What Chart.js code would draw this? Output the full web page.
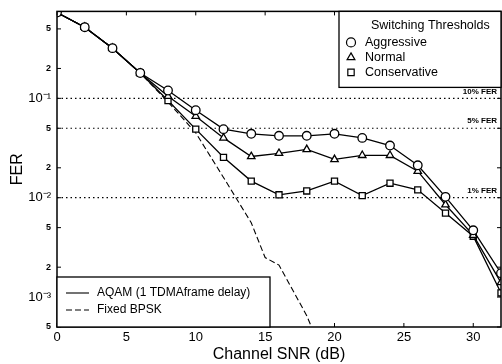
<!DOCTYPE html>
<html>
<head>
<meta charset="utf-8">
<script src="https://cdn.jsdelivr.net/npm/chart.js@4"></script>
<style>
  html, body { margin: 0; background: #fff; overflow: hidden; }
  canvas { display: block; }
</style>
</head>
<body>
<canvas id="ferChart" width="502" height="364"></canvas>
<script>
// valores (FER contra SNR del canal)
const snr = [0, 2, 4, 6, 8, 10, 12, 14, 16, 18, 20, 22, 24, 26, 28, 30, 32];
const aggressive   = [0.73, 0.52, 0.32, 0.18, 0.12, 0.076, 0.049, 0.044, 0.042, 0.042, 0.044, 0.040, 0.0335, 0.0212, 0.0102, 0.0047, 0.00174];
const normal       = [0.73, 0.52, 0.32, 0.18, 0.105, 0.066, 0.040, 0.026, 0.028, 0.0306, 0.0243, 0.0267, 0.0267, 0.0185, 0.0085, 0.0042, 0.0014];
const conservative = [0.73, 0.52, 0.32, 0.18, 0.095, 0.049, 0.0255, 0.0147, 0.0107, 0.0117, 0.0147, 0.0105, 0.014, 0.012, 0.0070, 0.0041, 0.0011];

const bpskSnr = [0, 2, 4, 6, 8, 10, 12, 14, 15, 16, 18, 19];
const bpskFer = [0.73, 0.52, 0.32, 0.18, 0.092, 0.045, 0.016, 0.0056, 0.0025, 0.0021, 0.00065, 0.0003];

const refLevels = [0.1, 0.05, 0.01];
const refLabels = ['10% FER', '5% FER', '1% FER'];

const xTicks = [0, 5, 10, 15, 20, 25, 30];
const yTicks = [0.5, 0.2, 0.1, 0.05, 0.02, 0.01, 0.005, 0.002, 0.001, 0.0005];
const yTickLabels = ['5', '2', '10⁻¹', '5', '2', '10⁻²', '5', '2', '10⁻³', '5'];

const FONT = '"Liberation Sans", Arial, sans-serif';

function pts(xs, ys) {
  return xs.map((x, i) => ({ x: x, y: ys[i] }));
}

function serie(label, data, style) {
  return {
    label: label,
    data: pts(snr, data),
    borderColor: '#000',
    borderWidth: 1.3,
    pointStyle: style,
    pointRadius: 4.3,
    pointBorderWidth: 1.3,
    pointBackgroundColor: '#fff',
    pointBorderColor: '#000'
  };
}

const datasets = [
  serie('Aggressive', aggressive, 'circle'),
  serie('Normal', normal, 'triangle'),
  serie('Conservative', conservative, 'rect'),
  {
    label: 'Fixed BPSK',
    data: pts(bpskSnr, bpskFer),
    borderColor: '#000',
    borderWidth: 1.1,
    borderDash: [6, 3],
    pointRadius: 0
  }
];

// lineas punteadas de referencia
refLevels.forEach((v, i) => {
  datasets.push({
    label: refLabels[i],
    data: [{ x: 0, y: v }, { x: 32, y: v }],
    borderColor: '#000',
    borderWidth: 1.2,
    borderDash: [1.5, 3],
    pointRadius: 0
  });
});

// marco, marcas internas, etiquetas y las dos leyendas
const extras = {
  id: 'extras',
  afterDraw(chart) {
    const ctx = chart.ctx;
    const a = chart.chartArea;
    const xs = chart.scales.x, ys = chart.scales.y;
    ctx.save();
    ctx.strokeStyle = '#000';
    ctx.lineWidth = 1.5;
    ctx.setLineDash([]);
    ctx.strokeRect(a.left, a.top, a.right - a.left, a.bottom - a.top);

    // marcas cortas hacia dentro
    ctx.lineWidth = 1;
    ctx.beginPath();
    xTicks.forEach(v => {
      const px = xs.getPixelForValue(v);
      ctx.moveTo(px, a.bottom); ctx.lineTo(px, a.bottom - 4);
      ctx.moveTo(px, a.top); ctx.lineTo(px, a.top + 4);
    });
    yTicks.forEach(v => {
      const py = ys.getPixelForValue(v);
      ctx.moveTo(a.left, py); ctx.lineTo(a.left + 4, py);
      ctx.moveTo(a.right, py); ctx.lineTo(a.right - 4, py);
    });
    ctx.stroke();

    // etiquetas de FER
    ctx.fillStyle = '#000';
    ctx.font = 'bold 8px ' + FONT;
    ctx.textAlign = 'right';
    ctx.textBaseline = 'bottom';
    refLevels.forEach((v, i) => {
      ctx.fillText(refLabels[i], a.right - 4, ys.getPixelForValue(v) - 3);
    });

    // leyenda de umbrales (arriba a la derecha)
    const bx = a.right - 162, by = a.top;
    ctx.fillStyle = '#fff';
    ctx.fillRect(bx, by, a.right - bx, 76);
    ctx.lineWidth = 1.3;
    ctx.strokeRect(bx, by, a.right - bx, 76);
    ctx.fillStyle = '#000';
    ctx.font = '12.5px ' + FONT;
    ctx.textAlign = 'left';
    ctx.textBaseline = 'middle';
    ctx.fillText('Switching Thresholds', bx + 32, by + 14);
    const items = [['circle', 'Aggressive'], ['triangle', 'Normal'], ['rect', 'Conservative']];
    items.forEach((it, i) => {
      const cy = by + 31 + i * 15;
      ctx.fillStyle = '#fff';
      ctx.strokeStyle = '#000';
      ctx.lineWidth = 1.2;
      Chart.helpers.drawPoint(ctx, { pointStyle: it[0], radius: 4.5, borderWidth: 1.2 }, bx + 12, cy);
      ctx.fillStyle = '#000';
      ctx.fillText(it[1], bx + 26, cy);
    });

    // leyenda de curvas (abajo a la izquierda)
    const lx = a.left, ly = a.bottom - 50, lw = 213;
    ctx.fillStyle = '#fff';
    ctx.fillRect(lx, ly, lw, 50);
    ctx.lineWidth = 1.3;
    ctx.strokeRect(lx, ly, lw, 50);
    ctx.fillStyle = '#000';
    ctx.font = '12px ' + FONT;
    ctx.lineWidth = 1.1;
    ctx.beginPath();
    ctx.moveTo(lx + 9, ly + 16); ctx.lineTo(lx + 32, ly + 16);
    ctx.stroke();
    ctx.setLineDash([6, 3]);
    ctx.beginPath();
    ctx.moveTo(lx + 9, ly + 33); ctx.lineTo(lx + 32, ly + 33);
    ctx.stroke();
    ctx.setLineDash([]);
    ctx.fillText('AQAM (1 TDMAframe delay)', lx + 40, ly + 16);
    ctx.fillText('Fixed BPSK', lx + 40, ly + 33);
    ctx.restore();
  }
};

new Chart(document.getElementById('ferChart'), {
  type: 'line',
  data: { datasets: datasets },
  plugins: [extras],
  options: {
    responsive: false,
    animation: false,
    devicePixelRatio: 1,
    layout: { autoPadding: false, padding: { top: 7, right: 1, left: 0, bottom: 0 } },
    plugins: {
      legend: { display: false },
      tooltip: { enabled: false }
    },
    scales: {
      x: {
        type: 'linear',
        min: 0,
        max: 32,
        afterBuildTicks: s => { s.ticks = xTicks.map(v => ({ value: v })); },
        afterFit: s => { s.height = 37; s.paddingLeft = 0; s.paddingRight = 0; },
        grid: { display: false, drawTicks: false },
        border: { display: false },
        ticks: { color: '#000', font: { family: FONT, size: 13 }, padding: 3, maxRotation: 0 },
        title: { display: true, text: 'Channel SNR (dB)', color: '#000', font: { family: FONT, size: 16 }, padding: { top: 0, bottom: 0 } }
      },
      y: {
        type: 'logarithmic',
        min: 0.0005,
        max: 0.75,
        afterBuildTicks: s => { s.ticks = yTicks.map(v => ({ value: v })); },
        afterFit: s => { s.width = 57; },
        grid: { display: false, drawTicks: false },
        border: { display: false },
        ticks: {
          color: '#000',
          padding: 6,
          callback: (v, i) => yTickLabels[i],
          font: c => (yTickLabels[c.index] || '').startsWith('10')
            ? { family: FONT, size: 13 }
            : { family: FONT, size: 9, weight: 'bold' }
        },
        title: { display: true, text: 'FER', color: '#000', font: { family: FONT, size: 16 }, padding: { top: 8, bottom: 4 } }
      }
    }
  }
});
</script>
</body>
</html>
